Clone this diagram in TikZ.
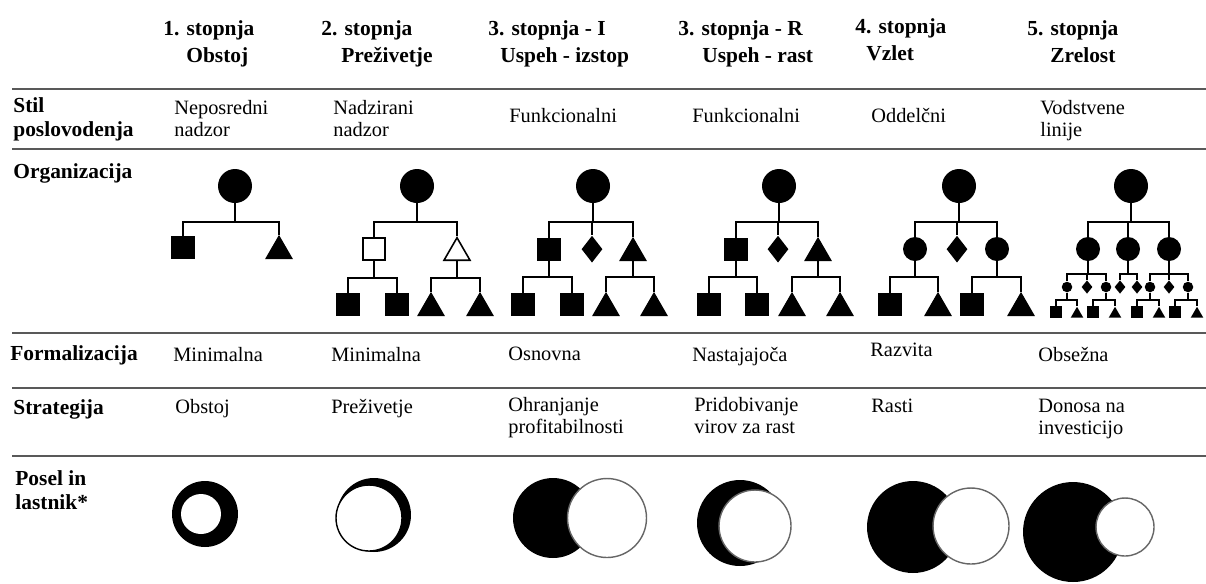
\documentclass[tikz,border=0pt]{standalone}
\usepackage{fontspec}
\setmainfont{Liberation Serif}
\usetikzlibrary{positioning,shapes.geometric}
\tikzset{
  boss/.style={circle,fill,inner sep=0pt,minimum size=0.68cm},
  dept/.style={circle,fill,inner sep=0pt,minimum size=0.48cm},
  dot/.style={circle,fill,inner sep=0pt,minimum size=0.21cm},
  sect/.style={rectangle,fill,draw,line width=0.6pt,inner sep=0pt,minimum size=0.44cm},
  box/.style={rectangle,fill,inner sep=0pt,minimum size=0.23cm},
  team/.style={regular polygon,regular polygon sides=3,fill,draw,line width=0.6pt,inner sep=0pt,minimum size=0.6cm},
  tri/.style={regular polygon,regular polygon sides=3,fill,inner sep=0pt,minimum size=0.29cm},
  staff/.style={diamond,fill,inner sep=0pt,minimum width=0.42cm,minimum height=0.54cm},
  gem/.style={diamond,fill,inner sep=0pt,minimum width=0.22cm,minimum height=0.27cm},
  open/.style={fill=white,draw=black,line width=0.9pt},
  owner/.style={fill=white,draw=black!60,line width=0.8pt},
  link/.style={line width=1pt},
  rule/.style={draw=black!65,line width=1.4pt},
  head/.style={font=\fontsize{12.2}{13.6}\selectfont\bfseries,inner sep=0pt,anchor=north west,align=left},
  val/.style={font=\fontsize{11.6}{12.5}\selectfont,inner sep=0pt,anchor=north west,align=left}
}

\begin{document}
\begin{tikzpicture}[x=0.02cm,y=-0.02cm]
\useasboundingbox (0,0) rectangle (1206,583);

% stage headings
\node[head] (s1a) at (163,20) {1. stopnja};
\node[head] (s1b) at (186,47) {Obstoj};
\node[head] (s2a) at (321,20) {2. stopnja};
\node[head] (s2b) at (341,47) {Preživetje};
\node[head] (s3a) at (488,20) {3. stopnja - I};
\node[head] (s3b) at (500,47) {Uspeh - izstop};
\node[head] (s4a) at (678,20) {3. stopnja - R};
\node[head] (s4b) at (702,47) {Uspeh - rast};
\node[head] (s5a) at (855,18) {4. stopnja};
\node[head] (s5b) at (866,45) {Vzlet};
\node[head] (s6a) at (1027,20) {5. stopnja};
\node[head] (s6b) at (1050,47) {Zrelost};

% row labels
\node[head] (lstil) at (13,97) {Stil\\poslovodenja};
\node[head] (lorg) at (13,163) {Organizacija};
\node[head] (lform) at (10,345) {Formalizacija};
\node[head] (lstrat) at (13,399) {Strategija};
\node[head] (lposel) at (15,470) {Posel in\\lastnik*};

\foreach \y in {89,149,333,388,456}
  \draw[rule] (12,\y) -- (1206,\y);

% management style
\node[val] (v11) at (174,100) {Neposredni\\nadzor};
\node[val] (v12) at (333,100) {Nadzirani\\nadzor};
\node[val] (v13) at (509,108) {Funkcionalni};
\node[val] (v14) at (692,108) {Funkcionalni};
\node[val] (v15) at (871,108) {Oddelčni};
\node[val] (v16) at (1040,100) {Vodstvene\\linije};

% formalization
\node[val] (v21) at (173,347) {Minimalna};
\node[val] (v22) at (331,347) {Minimalna};
\node[val] (v23) at (508,347) {Osnovna};
\node[val] (v24) at (692,347) {Nastajajoča};
\node[val] (v25) at (870,343) {Razvita};
\node[val] (v26) at (1038,347) {Obsežna};

% strategy
\node[val] (v31) at (175,399) {Obstoj};
\node[val] (v32) at (331,399) {Preživetje};
\node[val] (v33) at (508,397) {Ohranjanje\\profitabilnosti};
\node[val] (v34) at (694,397) {Pridobivanje\\virov za rast};
\node[val] (v35) at (871,399) {Rasti};
\node[val] (v36) at (1038,399) {Donosa na\\investicijo};

% organization charts
\node[boss] (a0) at (235,186) {};
\node[sect,anchor=south] (a1) at (183,259) {};
\node[team,anchor=south] (a2) at (279,259) {};
\foreach \p/\c/\y in {a0/a1/222,a0/a2/222}
  \draw[link] (\p.south) -- (\p |- 0,\y) -| (\c.north);

\node[boss] (b0) at (417,186) {};
\node[sect,open,anchor=south] (b1) at (374,261) {};
\node[team,open,anchor=south] (b2) at (457,261) {};
\node[sect,anchor=south] (b11) at (348,316) {};
\node[sect,anchor=south] (b12) at (397,316) {};
\node[team,anchor=south] (b21) at (431,316) {};
\node[team,anchor=south] (b22) at (480,316) {};
\foreach \p/\c/\y in {b0/b1/222,b0/b2/222,b1/b11/278,b1/b12/278,b2/b21/278,b2/b22/278}
  \draw[link] (\p.south) -- (\p |- 0,\y) -| (\c.north);

\node[boss] (c0) at (593,186) {};
\node[sect,anchor=south] (c1) at (549,261) {};
\node[staff,anchor=south] (c2) at (592,263) {};
\node[team,anchor=south] (c3) at (633,261) {};
\node[sect,anchor=south] (c11) at (523,316) {};
\node[sect,anchor=south] (c12) at (572,316) {};
\node[team,anchor=south] (c31) at (606,316) {};
\node[team,anchor=south] (c32) at (654,316) {};
\foreach \p/\c/\y in {c0/c1/222,c0/c2/222,c0/c3/222,c1/c11/277,c1/c12/277,c3/c31/277,c3/c32/277}
  \draw[link] (\p.south) -- (\p |- 0,\y) -| (\c.north);

\node[boss] (d0) at (779,186) {};
\node[sect,anchor=south] (d1) at (736,261) {};
\node[staff,anchor=south] (d2) at (778,263) {};
\node[team,anchor=south] (d3) at (818,261) {};
\node[sect,anchor=south] (d11) at (709,316) {};
\node[sect,anchor=south] (d12) at (757,316) {};
\node[team,anchor=south] (d31) at (792,316) {};
\node[team,anchor=south] (d32) at (840,316) {};
\foreach \p/\c/\y in {d0/d1/222,d0/d2/222,d0/d3/222,d1/d11/277,d1/d12/277,d3/d31/277,d3/d32/277}
  \draw[link] (\p.south) -- (\p |- 0,\y) -| (\c.north);

\node[boss] (e0) at (959,186) {};
\node[dept] (e1) at (915,249) {};
\node[staff,anchor=south] (e2) at (957,263) {};
\node[dept] (e3) at (997,249) {};
\node[sect,anchor=south] (e11) at (890,316) {};
\node[team,anchor=south] (e12) at (938,316) {};
\node[sect,anchor=south] (e31) at (972,316) {};
\node[team,anchor=south] (e32) at (1021,316) {};
\foreach \p/\c/\y in {e0/e1/222,e0/e2/222,e0/e3/222,e1/e11/277,e1/e12/277,e3/e31/277,e3/e32/277}
  \draw[link] (\p.south) -- (\p |- 0,\y) -| (\c.north);

\node[boss] (f0) at (1131,186) {};
\node[dept] (f1) at (1088,249) {};
\node[dept] (f2) at (1128,249) {};
\node[dept] (f3) at (1169,249) {};
\node[dot] (f11) at (1067,287) {};
\node[gem] (f12) at (1087,287) {};
\node[dot] (f13) at (1106,287) {};
\node[gem] (f21) at (1120,287) {};
\node[gem] (f22) at (1137,287) {};
\node[dot] (f31) at (1150,287) {};
\node[gem] (f32) at (1169,287) {};
\node[dot] (f33) at (1188,287) {};
\node[box,anchor=south] (f111) at (1056,318) {};
\node[tri,anchor=south] (f112) at (1077,318) {};
\node[box,anchor=south] (f131) at (1093,318) {};
\node[tri,anchor=south] (f132) at (1115,318) {};
\node[box,anchor=south] (f311) at (1137,318) {};
\node[tri,anchor=south] (f312) at (1159,318) {};
\node[box,anchor=south] (f331) at (1175,318) {};
\node[tri,anchor=south] (f332) at (1197,318) {};
\foreach \p/\c/\y in {f0/f1/222,f0/f2/222,f0/f3/222,
    f1/f11/274,f1/f12/274,f1/f13/274,f2/f21/274,f2/f22/274,f3/f31/274,f3/f32/274,f3/f33/274,
    f11/f111/300,f11/f112/300,f13/f131/300,f13/f132/300,f31/f311/300,f31/f312/300,f33/f331/300,f33/f332/300}
  \draw[link] (\p.south) -- (\p |- 0,\y) -| (\c.north);

% business and owner
\fill (205,514) circle [radius=0.66cm];
\fill[white] (201,514) circle [radius=0.4cm];
\fill (374,515) circle [radius=0.74cm];
\draw[owner,draw=black] (369,518) circle [radius=0.66cm];
\fill (553,518) circle [radius=0.8cm];
\draw[owner] (607,518) circle [radius=0.79cm];
\fill (740,523) circle [radius=0.86cm];
\draw[owner] (755,526) circle [radius=0.72cm];
\fill (913,527) circle [radius=0.92cm];
\draw[owner] (971,526) circle [radius=0.76cm];
\fill (1073,532) circle [radius=1cm];
\draw[owner] (1125,527) circle [radius=0.58cm];
\end{tikzpicture}
\end{document}
